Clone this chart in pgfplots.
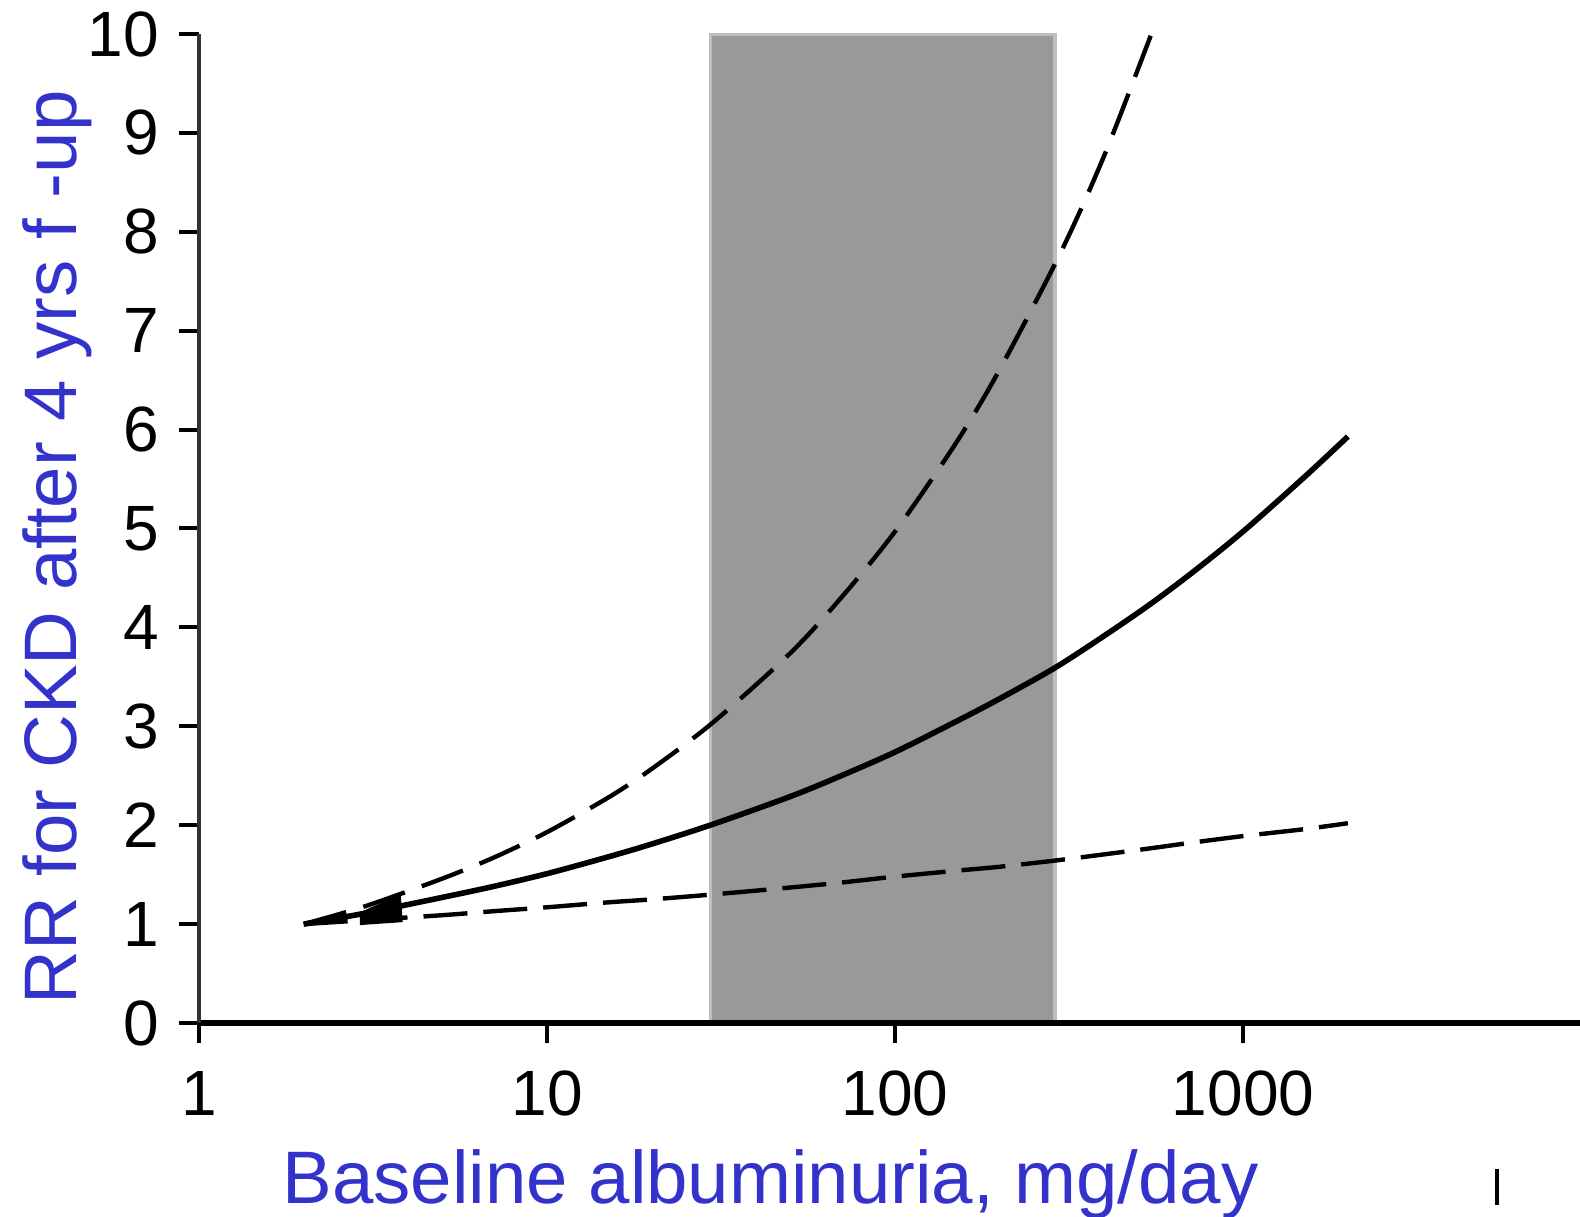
\documentclass[border=0pt]{standalone}
\usepackage{fontspec}
\setmainfont{Liberation Sans}
\usepackage{pgfplots}
\pgfplotsset{compat=1.18}
\definecolor{labelblue}{RGB}{51,51,204}
\definecolor{bandgray}{RGB}{153,153,153}
\definecolor{bandedge}{RGB}{190,190,190}
\begin{document}
\begin{tikzpicture}
\begin{axis}[
  scale only axis, width=345.25bp, height=247.25bp,
  at={(0,0)}, anchor=south west,
  xmode=log, xmin=1, xmax=9290, ymin=0, ymax=10,
  axis x line*=bottom, axis y line*=left,
  x axis line style={line width=1.7bp, black, -},
  y axis line style={line width=1.2bp, black!80, -},
  axis on top,
  tick align=outside,
  major tick length=5bp,
  major tick style={line width=1bp, black},
  xminorticks=false, yminorticks=false,
  xtick={1,10,100,1000}, xticklabels={1,10,100,1000},
  ytick={0,1,2,3,4,5,6,7,8,9,10},
  /pgf/number format/assume math mode=true,
  ticklabel style={font=\fontsize{16bp}{19bp}\selectfont, text=black},
  xticklabel style={yshift=-3.5bp},
  yticklabel style={xshift=-1.5bp},
  xlabel={Baseline albuminuria, mg/day},
  ylabel={RR for CKD after 4 yrs f -up},
  xlabel style={font=\fontsize{18.6bp}{22bp}\selectfont, text=labelblue,
    at={(axis description cs:0.414,-0.182)}, anchor=base},
  ylabel style={font=\fontsize{18.6bp}{22bp}\selectfont, text=labelblue,
    at={(axis description cs:-0.089,0.481)}, anchor=base},
]
% microalbuminuria band
\addplot[fill=bandgray, draw=bandedge, line width=0.8bp]
  coordinates {(29.5,0) (29.5,10) (288,10) (288,0) (29.5,0)};
% upper 95% CI
\addplot[black, line width=1.1bp, smooth, dash pattern=on 11bp off 4.5bp]
  coordinates {(2,1) (3,1.18) (5,1.46) (7,1.67) (10,1.93) (15,2.28)
    (20,2.57) (30,3.04) (50,3.74) (70,4.30) (100,4.97) (150,5.87)
    (200,6.61) (300,7.80) (400,8.78) (545,10.0)};
% RR estimate
\addplot[black, line width=1.4bp, smooth]
  coordinates {(2,1) (3,1.11) (5,1.27) (7,1.38) (10,1.51) (15,1.68)
    (20,1.81) (30,2.01) (50,2.29) (70,2.50) (100,2.74) (150,3.05)
    (200,3.28) (300,3.63) (500,4.15) (700,4.53) (1000,4.97)
    (1500,5.52) (2000,5.93)};
% lower 95% CI
\addplot[black, line width=1.1bp, smooth, dash pattern=on 11bp off 4bp]
  coordinates {(2,1) (3,1.04) (5,1.09) (7,1.13) (10,1.17) (15,1.22)
    (20,1.25) (30,1.30) (50,1.37) (70,1.42) (100,1.48) (150,1.54)
    (200,1.58) (300,1.65) (500,1.75) (700,1.82) (1000,1.89)
    (1500,1.96) (2000,2.02)};
% dark overlap near the origin of the curves
\addplot[fill=black, draw=none]
  coordinates {(2.9,0.99) (2.9,1.12) (3.8,1.3) (3.85,1.02)};
\end{axis}
\node[inner sep=0pt, anchor=north] at (324.5bp,-36.25bp) {\rule{0.8bp}{9bp}};
\pgfresetboundingbox
\path (-49.75bp,-48.5bp) rectangle (345.25bp,255.75bp);
\end{tikzpicture}
\end{document}
